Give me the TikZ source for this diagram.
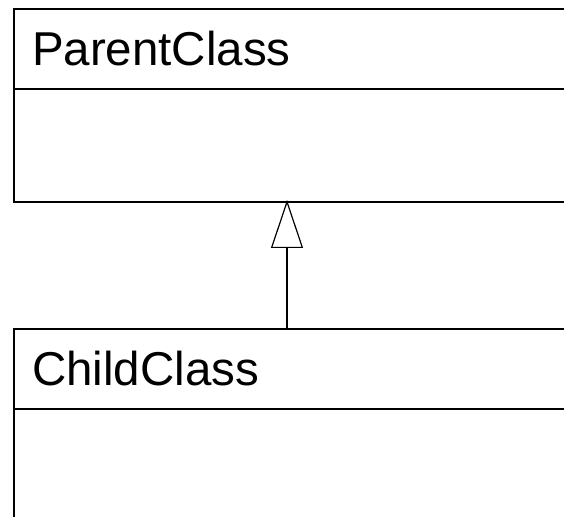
\documentclass[tikz,border=0pt]{standalone}
\usepackage{fontspec}
\setmainfont{Liberation Sans}
\usetikzlibrary{arrows.meta,positioning}

\begin{document}
\begin{tikzpicture}[x=1pt,y=1pt,
    namebox/.style={draw,line width=1.2pt,anchor=north west,minimum width=700pt,minimum height=80pt,
      text width=664pt,align=left,inner xsep=18pt,inner ysep=0pt,outer sep=0pt,font=\fontsize{47.5}{50}\selectfont},
    bodybox/.style={draw,line width=1.2pt,anchor=north west,minimum width=700pt,inner sep=0pt,outer sep=0pt}]

    \useasboundingbox (0,0) rectangle (564,516);

    \node[namebox] (parentname) at (14,507) {ParentClass};
    \node[bodybox,minimum height=113pt] (parentbody) at (parentname.south west) {};
    \node[namebox] (childname) at (14,187) {ChildClass};
    \node[bodybox,minimum height=200pt] (childbody) at (childname.south west) {};

    \path (parentbody.south west) ++(273,2) coordinate (parentfoot);
    \path (childname.north west) ++(273,0) coordinate (childhead);
    \draw[line width=1.2pt,-{Triangle[open,length=48pt,width=32pt]}] (childhead) -- (parentfoot);
    \end{tikzpicture}
\end{document}
